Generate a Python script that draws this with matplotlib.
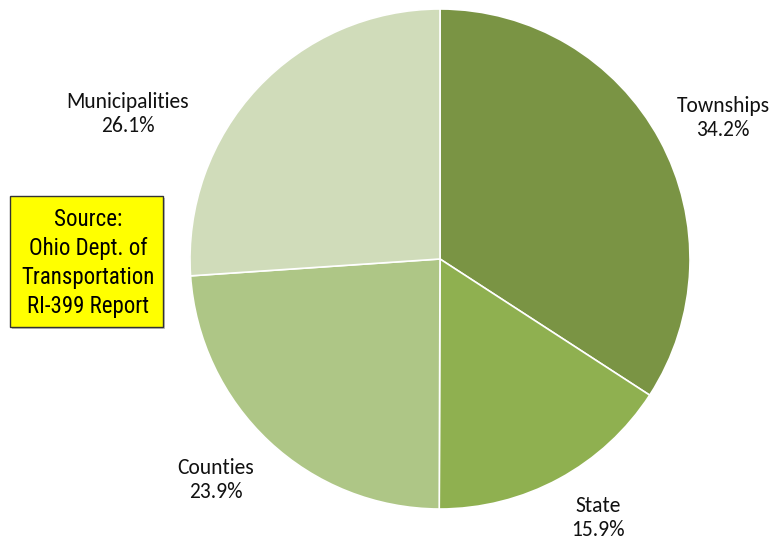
import matplotlib
matplotlib.use("Agg")
import matplotlib.pyplot as plt
from matplotlib import font_manager
from matplotlib.patches import Rectangle

categories = ["Townships", "State", "Counties", "Municipalities"]
shares = [34.2, 15.9, 23.9, 26.1]
colors = ["#7A9444", "#8FB050", "#AEC686", "#D0DCBA"]
source_lines = ["Source:", "Ohio Dept. of", "Transportation", "RI-399 Report"]

W, H = 774, 542
fig = plt.figure(figsize=(W / 100, H / 100), dpi=100)
ax = fig.add_axes([0, 0, 1, 1])

cx, cy, r = 440, H - 259, 250
ax.pie(shares, colors=colors, startangle=90, counterclock=False,
       center=(cx, cy), radius=r, frame=True,
       wedgeprops=dict(edgecolor="white", linewidth=1.2))
ax.set_xlim(0, W)
ax.set_ylim(0, H)
ax.set_aspect("equal")
ax.axis("off")

names = {f.name for f in font_manager.fontManager.ttflist}
lab_font = [f for f in ["Carlito", "Lato", "DejaVu Sans"] if f in names]
box_font = [f for f in ["Liberation Sans Narrow", "Arial Narrow", "Roboto Condensed", "Liberation Sans", "DejaVu Sans"] if f in names]

label_pos = [(723, 118), (598, 518), (216, 480), (128, 114)]
for name, val, (x, y) in zip(categories, shares, label_pos):
    ax.text(x, H - y, f"{name}\n{val:.1f}%", ha="center", va="center",
            fontsize=15.5, family=lab_font, linespacing=1.2, color="#111111")

# source box
ax.add_patch(Rectangle((12, H - 329), 153, 131, facecolor="#888888",
                       edgecolor="none", alpha=0.5, zorder=3))
ax.add_patch(Rectangle((10, H - 327), 153, 131, facecolor="#FFFF00",
                       edgecolor="#333333", linewidth=1, zorder=4))
ax.text(88, H - 263, "\n".join(source_lines), ha="center", va="center",
        fontsize=16.5, family=box_font, linespacing=1.32, color="black",
        zorder=5)

fig.savefig("out.png", dpi=100)
